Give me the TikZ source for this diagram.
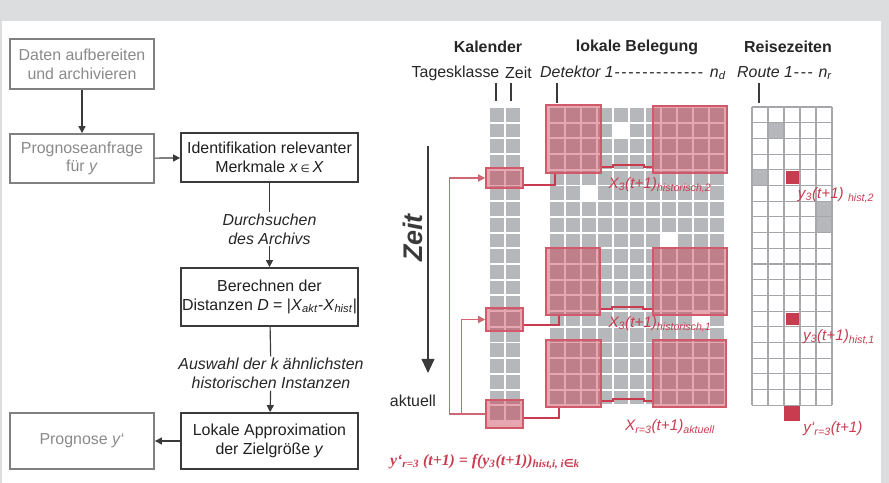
\documentclass[tikz,border=0pt]{standalone}
\usepackage{fontspec}
\setmainfont{Liberation Sans}
\newfontfamily\formelfont{Liberation Serif}
\newfontfamily\symfont{DejaVu Sans}
\usetikzlibrary{arrows.meta,calc,fit}
\definecolor{bandgrau}{HTML}{DCDDDF}
\definecolor{zellgrau}{HTML}{B6B7BA}
\definecolor{liniengrau}{HTML}{A6A7AA}
\definecolor{boxgrau}{HTML}{808080}
\definecolor{textgrau}{HTML}{8A8A8A}
\definecolor{dunkel}{HTML}{3A3A3A}
\definecolor{rot}{HTML}{C93C50}
\newcommand{\flowfont}{\fontsize{13.6}{16}\selectfont}
\newcommand{\striche}[1]{\foreach \k in {1,...,#1}{\kern0.7pt-\kern0.7pt}}
\newcommand{\raster}[4]{%
  \fill[zellgrau] (#1,#2) rectangle ++(#3*16,#4*15.7);
  \draw[white,line width=1.6pt]
    \foreach \i in {0,...,#3} {(#1+\i*16,#2) -- ++(0,#4*15.7)}
    \foreach \j in {0,...,#4} {(#1,#2+\j*15.7) -- ++(#3*16,0)};
}
\tikzset{
  graubox/.style={draw=boxgrau,line width=1.5pt,text=textgrau,minimum width=4.32cm,align=center,inner sep=0pt},
  dunkelbox/.style={draw=dunkel,line width=1.5pt,text=black!88,minimum width=5.31cm,align=center,inner sep=0pt},
  zwischentext/.style={font=\flowfont\itshape,text=black!85,align=center,inner sep=1.5pt},
  linie/.style={draw=dunkel,line width=1pt},
  pfeil/.style={linie,-{Triangle[length=6pt,width=6pt]}},
  zeitpfeil/.style={draw=dunkel,line width=1.1pt,-{Triangle[length=12pt,width=11pt]}},
  strich/.style={draw=dunkel,line width=1.7pt},
  kopf/.style={font=\flowfont\bfseries,text=black!85},
  rotbox/.style={draw=rot!85!white,line width=1.3pt,fill=rot,fill opacity=0.45,inner sep=0pt},
  rotlinie/.style={draw=rot,line width=1.3pt},
  rotpfeil/.style={draw=rot!80!white,line width=1.2pt,-{Triangle[length=6pt,width=6pt]}},
  rottext/.style={text=rot,font=\fontsize{13}{13}\selectfont\itshape,inner sep=0pt},
  reiselinie/.style={draw=liniengrau,line width=1pt}
}

\begin{document}
\begin{tikzpicture}[x=0.03cm,y=-0.03cm,every node/.style={font=\flowfont}]
  \useasboundingbox (0,0) rectangle (889,483);
  \fill[bandgrau] (0,0) rectangle (889,21);
  \fill[bandgrau] (881,0) rectangle (889,483);
  \fill[bandgrau] (0,0) rectangle (1.5,483);

  % Ablauf
  \node[graubox,minimum height=1.5cm] (daten) at (82,64) {Daten aufbereiten\\und archivieren};
  \node[graubox,minimum height=1.47cm] (anfrage) at (82,158.5) {Prognoseanfrage\\für \textit{y}};
  \node[dunkelbox,minimum height=1.47cm] (ident) at (269.5,157.5)
    {Identifikation relevanter\\Merkmale \textit{x}\,{\symfont\small ∈}\,\textit{X}};
  \node[zwischentext] (durchsuchen) at (269.5,229) {Durchsuchen\\des Archivs};
  \node[dunkelbox,minimum height=1.74cm] (distanz) at (269.5,297)
    {Berechnen der\\Distanzen \textit{D} = |\textit{X}\textsubscript{\textit{akt}}-\textit{X}\textsubscript{\textit{hist}}|};
  \node[zwischentext] (auswahl) at (271,373.5) {Auswahl der k ähnlichsten\\historischen Instanzen};
  \node[dunkelbox,minimum height=1.68cm] (lokal) at (269.5,441) {Lokale Approximation\\der Zielgröße \textit{y}};
  \node[graubox,minimum height=1.68cm] (prognose) at (82,441) {Prognose \textit{y}‘};

  \draw[pfeil] (daten) -- (anfrage);
  \draw[pfeil] (anfrage) -- (ident);
  \draw[linie] (ident) -- (durchsuchen);
  \draw[pfeil] (durchsuchen) -- (distanz);
  \draw[linie] (distanz) -- (auswahl);
  \draw[pfeil] (auswahl) -- (lokal);
  \draw[pfeil] (lokal) -- (prognose);

  % Kopfzeilen
  \node[kopf] (kalender) at (488,47) {Kalender};
  \node[kopf] (belegung) at (637,47) {lokale Belegung};
  \node[kopf] (reise) at (788,47) {Reisezeiten};
  \node[text=black!85] (tagesklasse) at (455.5,73) {Tagesklasse};
  \node[text=black!85] (zeitkopf) at (518.5,73) {Zeit};
  \node[anchor=west,inner sep=0pt,text=black!85] (detektor) at (540,73)
    {\textit{Detektor 1}\striche{13}\hspace{5pt}\textit{n}\textsubscript{\textit{d}}};
  \node[anchor=west,inner sep=0pt,text=black!85] (route) at (737,73)
    {\textit{Route 1}\striche{3}\hspace{4pt}\textit{n}\textsubscript{\textit{r}}};
  \foreach \x/\y in {496/101,511/101,557/103,759/103}
    \draw[strich] (\x,83) -- (\x,\y);

  % Raster
  \raster{489}{107}{2}{20}
  \raster{549}{107}{11}{19}
  \foreach \c/\r in {4/1,2/5,7/8,9/13}
    \fill[white] (549+\c*16,107+\r*15.7) rectangle ++(16,15.7);
  \foreach \c/\r in {1/1,0/4,4/6,4/7}
    \fill[zellgrau] (752+\c*16,107+\r*15.7) rectangle ++(16,15.7);
  \foreach \r in {4,13}
    \fill[rot] (785.5,108.5+\r*15.7) rectangle ++(13,12.7);
  \draw[reiselinie]
    \foreach \i in {0,...,5} {(752+\i*16,107) -- ++(0,19*15.7)}
    \foreach \j in {0,...,19} {(752,107+\j*15.7) -- ++(80,0)};
  \fill[rot] (784,406) rectangle (799.5,421);

  % Zeitachse
  \coordinate (zeitoben) at (428,146);
  \coordinate (zeitunten) at (428,373);
  \draw[zeitpfeil] (zeitoben) -- (zeitunten);
  \node[rotate=90,font=\fontsize{23}{23}\selectfont\bfseries\itshape,text=dunkel] (zeit) at (413,238) {Zeit};
  \node[text=black!85] (aktuell) at (413,401) {aktuell};

  % Instanzen
  \node[rotbox,fit={(486,168) (523,188)}] (k1) {};
  \node[rotbox,fit={(486,308) (523,331)}] (k2) {};
  \node[rotbox,fit={(486,400) (523,428)}] (k3) {};
  \node[rotbox,fit={(546,105) (601,173)}] (l1) {};
  \node[rotbox,fit={(653,106) (727,173)}] (r1) {};
  \node[rotbox,fit={(546,248) (600,315)}] (l2) {};
  \node[rotbox,fit={(653,248) (727,315)}] (r2) {};
  \node[rotbox,fit={(546,340) (601,407)}] (l3) {};
  \node[rotbox,fit={(653,340) (726,407)}] (r3) {};
  \foreach \n/\dy/\dx in {1/4/10,2/7/14,3/11/14} {
    \draw[rotlinie] ($(k\n.south east)+(0,-\dy)$) -| ($(l\n.south west)+(\dx,0)$);
    \draw[rotlinie] ($(l\n.south east)+(0,-7)$) -- ++(11,0) -- ++(0,-2) -- ++(31,0) -- ++(0,2)
      -- ($(r\n.south west)+(0,-7)$);
  }
  \draw[rotpfeil] (k3.west) -| ($(k1.west)+(-36,0)$) |- (k1.west);
  \draw[rotpfeil] (k3.west) -| ($(k2.west)+(-24,0)$) |- (k2.west);

  % Beschriftungen
  \node[rottext] (xhist2) at (660,185) {X\textsubscript{3}(t+1)\textsubscript{historisch,2}};
  \node[rottext] (xhist1) at (660,324) {X\textsubscript{3}(t+1)\textsubscript{historisch,1}};
  \node[rottext] (xakt) at (670,427) {X\textsubscript{r=3}(t+1)\textsubscript{aktuell}};
  \node[rottext] (yhist2) at (836,195) {y\textsubscript{3}(t+1)\ \textsubscript{hist,2}};
  \node[rottext] (yhist1) at (839,337) {y\textsubscript{3}(t+1)\textsubscript{hist,1}};
  \node[rottext] (yprog) at (833,429) {y‘\textsubscript{r=3}(t+1)};
  \node[text=rot,inner sep=0pt,font=\formelfont\fontsize{13.5}{13.5}\selectfont\bfseries\itshape] (formel) at (485,462)
    {y‘\textsubscript{r=3} (t+1) = f(y\textsubscript{3}(t+1))\textsubscript{hist,i, i{\symfont ∈}k}};
\end{tikzpicture}
\end{document}
